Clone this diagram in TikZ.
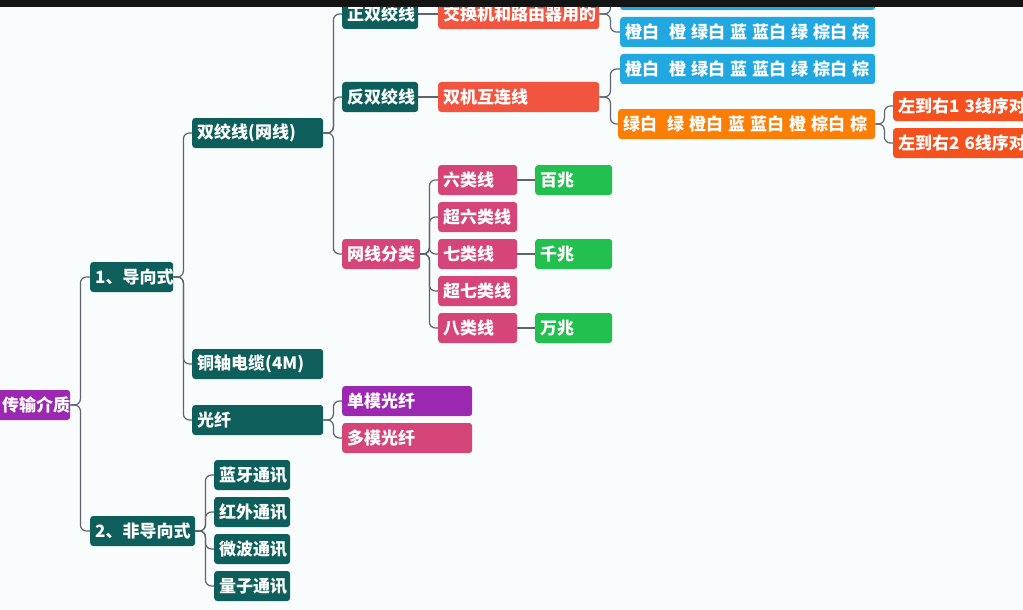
\documentclass[tikz,border=0pt]{standalone}
\usepackage{fontspec}
\setmainfont{Noto Sans CJK SC}
\definecolor{tealbox}{HTML}{0E5F5C}
\definecolor{purplebox}{HTML}{9C27B0}
\definecolor{pinkbox}{HTML}{D6457A}
\definecolor{redbox}{HTML}{F2553F}
\definecolor{bluebox}{HTML}{22A8E0}
\definecolor{orangebox}{HTML}{FB7F06}
\definecolor{flamebox}{HTML}{F4511E}
\definecolor{greenbox}{HTML}{22C04E}
\definecolor{linegray}{HTML}{5F646B}
\definecolor{bgpaper}{HTML}{F8FCFD}
\newcommand{\wsp}{\kern5pt}
\tikzset{
    mm/.style={rectangle, rounded corners=3pt, fill=#1, text=white, anchor=west,
        font=\bfseries\fontsize{17}{17}\selectfont, minimum height=30pt,
        inner xsep=5pt, inner ysep=0pt, align=left},
    tw/.style={text width=#1pt},
    conn/.style={draw=linegray, line width=1.2pt, rounded corners=6pt}
}
\newcommand{\branch}[3]{\draw[conn] (#1.east) -- ++(#2,0) |- (#3.west);}
\begin{document}
\begin{tikzpicture}[x=1pt, y=-1pt]
    \useasboundingbox (0,0) rectangle (1023,610);
    \clip (0,0) rectangle (1023,610);
    \fill[bgpaper] (0,0) rectangle (1023,610);

    \begin{scope}[every node/.style={mm=tealbox}]
        \node[mm=purplebox, tw=63] (media) at (-3,405) {传输介质};
        \node[tw=73] (guided) at (90,277) {1、导向式};
        \node[tw=95] (unguided) at (90,531) {2、非导向式};
        \node[tw=121] (twisted) at (192,133) {双绞线(网线)};
        \node[tw=121] (coax) at (192,364) {铜轴电缆(4M)};
        \node[tw=121] (fiber) at (192,420) {光纤};
        \node[tw=66] (straight) at (342,14) {正双绞线};
        \node[tw=66] (cross) at (342,97) {反双绞线};
        \node[mm=pinkbox, tw=68] (category) at (342,254) {网线分类};
        \node[mm=purplebox, tw=120] (single) at (342,401) {单模光纤};
        \node[mm=pinkbox, tw=120] (multi) at (342,438) {多模光纤};
        \node[tw=66] (bluetooth) at (214,475) {蓝牙通讯};
        \node[tw=66] (infrared) at (214,512) {红外通讯};
        \node[tw=66] (microwave) at (214,549) {微波通讯};
        \node[tw=66] (quantum) at (214,586) {量子通讯};
    \end{scope}

    \begin{scope}[every node/.style={mm=redbox, tw=151}]
        \node (switch) at (438,14) {交换机和路由器用的};
        \node (pcpc) at (438,97) {双机互连线};
    \end{scope}

    \begin{scope}[every node/.style={mm=bluebox, tw=245}]
        \node (seqA) at (620,-5) {橙白\wsp\wsp 橙\wsp 绿白\wsp 蓝\wsp 蓝白\wsp 绿\wsp 棕白\wsp 棕};
        \node (seqB) at (620,32) {橙白\wsp\wsp 橙\wsp 绿白\wsp 蓝\wsp 蓝白\wsp 绿\wsp 棕白\wsp 棕};
        \node (seqC) at (620,69) {橙白\wsp\wsp 橙\wsp 绿白\wsp 蓝\wsp 蓝白\wsp 绿\wsp 棕白\wsp 棕};
        \node[mm=orangebox, tw=247] (seqD) at (618,124) {绿白\wsp\wsp 绿\wsp 橙白\wsp 蓝\wsp 蓝白\wsp 橙\wsp 棕白\wsp 棕};
    \end{scope}

    \begin{scope}[every node/.style={mm=flamebox, tw=140}]
        \node (swapA) at (893,106) {左到右1\wsp 3线序对};
        \node (swapB) at (893,143) {左到右2\wsp 6线序对};
    \end{scope}

    \begin{scope}[every node/.style={mm=pinkbox, tw=69}]
        \node (cat6) at (438,180) {六类线};
        \node (cat6a) at (438,217) {超六类线};
        \node (cat7) at (438,254) {七类线};
        \node (cat7a) at (438,291) {超七类线};
        \node (cat8) at (438,328) {八类线};
    \end{scope}

    \begin{scope}[every node/.style={mm=greenbox, tw=67}]
        \node (mega) at (535,180) {百兆};
        \node (giga) at (535,254) {千兆};
        \node (tenga) at (535,328) {万兆};
    \end{scope}

    % connectors
    \foreach \c in {guided, unguided} {\branch{media}{10}{\c}}
    \foreach \c in {twisted, coax, fiber} {\branch{guided}{10}{\c}}
    \foreach \c in {straight, cross, category} {\branch{twisted}{10}{\c}}
    \foreach \c in {seqA, seqB} {\branch{switch}{11}{\c}}
    \foreach \c in {seqC, seqD} {\branch{pcpc}{11}{\c}}
    \foreach \c in {swapA, swapB} {\branch{seqD}{9}{\c}}
    \foreach \c in {cat6, cat6a, cat7, cat7a, cat8} {\branch{category}{9}{\c}}
    \foreach \c in {single, multi} {\branch{fiber}{10}{\c}}
    \foreach \c in {bluetooth, infrared, microwave, quantum} {\branch{unguided}{10}{\c}}
    \draw[conn] (straight) -- (switch);
    \draw[conn] (cross) -- (pcpc);
    \draw[conn] (cat6) -- (mega);
    \draw[conn] (cat7) -- (giga);
    \draw[conn] (cat8) -- (tenga);

    \fill[black!92] (0,0) rectangle (1023,7);
\end{tikzpicture}
\end{document}
